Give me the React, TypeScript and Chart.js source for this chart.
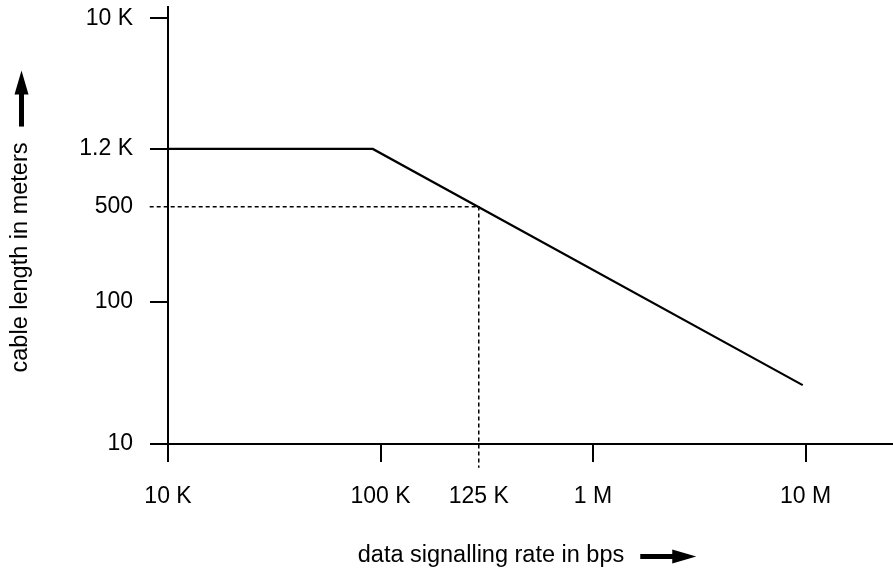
import React, { useEffect, useRef } from 'react';
import { Chart, registerables } from 'chart.js';

Chart.register(...registerables);

// ---- data ----
// tick positions as read off the (schematic) log axes; labels as printed
const xTickValues = [1e4, 1e5, 2.9e5, 1e6, 1e7];
const xTickLabels = ['10 K', '100 K', '125 K', '1 M', '10 M'];
const yTickValues = [10, 100, 470, 1200, 10000];
const yTickLabels = ['10', '100', '500', '1.2 K', '10 K'];

const rateBps = [1e4, 92000, 9.7e6];
const cableLengthM = [1200, 1200, 26];

const markerRate = [8200, 2.9e5, 2.9e5];
const markerLength = [470, 470, 6.8];
const markerTickX = 2.9e5;
const markerTickY = 470;

const xTitle = 'data signalling rate in bps';
const yTitle = 'cable length in meters';

const FONT = '"Liberation Sans", Arial, Helvetica, sans-serif';

function drawTitleWithArrow(ctx: CanvasRenderingContext2D, text: string, centerX: number, baseline: number) {
  const w = ctx.measureText(text).width;
  const gap = 16;
  const arrowLen = 56;
  const headLen = 24;
  const headHalf = 7;
  const shaft = 5;
  const total = w + gap + arrowLen;
  const x0 = centerX - total / 2;
  ctx.textAlign = 'left';
  ctx.textBaseline = 'alphabetic';
  ctx.fillText(text, x0, baseline);
  const ax = x0 + w + gap;
  const ay = baseline - 5.5;
  ctx.fillRect(ax, ay - shaft / 2, arrowLen - headLen + 1, shaft);
  ctx.beginPath();
  ctx.moveTo(ax + arrowLen - headLen, ay - headHalf);
  ctx.lineTo(ax + arrowLen, ay);
  ctx.lineTo(ax + arrowLen - headLen, ay + headHalf);
  ctx.closePath();
  ctx.fill();
}

const axisTitlesPlugin = {
  id: 'axisTitlesWithArrows',
  afterDraw(chart: any) {
    const { ctx, chartArea: a } = chart;
    ctx.save();
    ctx.fillStyle = '#000';
    ctx.font = `23.5px ${FONT}`;
    // x-axis title
    drawTitleWithArrow(ctx, xTitle, (a.left + a.right) / 2 - 3.5, chart.height - 6);
    // y-axis title (rotated)
    ctx.translate(27, (a.top + a.bottom) / 2 - 4);
    ctx.rotate(-Math.PI / 2);
    drawTitleWithArrow(ctx, yTitle, 0, 0);
    ctx.restore();
  },
};

export default function App() {
  const canvasRef = useRef<HTMLCanvasElement | null>(null);

  useEffect(() => {
    const canvas = canvasRef.current;
    if (!canvas) return;
    const tickFont = { family: FONT, size: 23 };
    const chart = new Chart(canvas, {
      type: 'line',
      data: {
        datasets: [
          {
            label: 'cable length',
            data: rateBps.map((x, i) => ({ x, y: cableLengthM[i] })),
            borderColor: '#000',
            borderWidth: 2.2,
            pointRadius: 0,
            fill: false,
            tension: 0,
          },
          {
            label: 'marker',
            data: markerRate.map((x, i) => ({ x, y: markerLength[i] })),
            borderColor: '#000',
            borderWidth: 1.5,
            borderDash: [4, 3],
            pointRadius: 0,
            fill: false,
            tension: 0,
            clip: false as any,
          },
        ],
      },
      options: {
        animation: false,
        responsive: false,
        maintainAspectRatio: false,
        layout: { padding: { top: 7, right: 0, bottom: 0, left: 0 } },
        plugins: {
          legend: { display: false },
          tooltip: { enabled: false },
        },
        scales: {
          x: {
            type: 'logarithmic',
            min: 1e4,
            max: 2.58e7,
            afterBuildTicks: (s: any) => {
              s.ticks = xTickValues.map((v) => ({ value: v }));
            },
            afterFit: (s: any) => {
              s.height = 124;
              s.paddingLeft = 0;
              s.paddingRight = 0;
              s.paddingTop = 0;
              s.paddingBottom = 0;
            },
            ticks: {
              autoSkip: false,
              maxRotation: 0,
              minRotation: 0,
              padding: 21,
              color: '#000',
              font: tickFont,
              callback: (_v: any, i: number) => xTickLabels[i],
            },
            grid: {
              display: true,
              drawOnChartArea: false,
              drawTicks: true,
              tickLength: 18,
              lineWidth: 2,
              tickWidth: 2,
              color: '#000',
              tickColor: (c: any) => (c.tick && c.tick.value === markerTickX ? 'rgba(0,0,0,0)' : '#000'),
            },
            border: { display: true, color: '#000', width: 2 },
          },
          y: {
            type: 'logarithmic',
            min: 10,
            max: 12000,
            afterBuildTicks: (s: any) => {
              s.ticks = yTickValues.map((v) => ({ value: v }));
            },
            afterFit: (s: any) => {
              s.width = 168;
              s.paddingLeft = 0;
              s.paddingRight = 0;
              s.paddingTop = 0;
              s.paddingBottom = 0;
            },
            ticks: {
              autoSkip: false,
              padding: 17,
              color: '#000',
              font: tickFont,
              callback: (_v: any, i: number) => yTickLabels[i],
            },
            grid: {
              display: true,
              drawOnChartArea: false,
              drawTicks: true,
              tickLength: 18,
              lineWidth: 2,
              tickWidth: 2,
              color: '#000',
              tickColor: (c: any) => (c.tick && c.tick.value === markerTickY ? 'rgba(0,0,0,0)' : '#000'),
            },
            border: { display: true, color: '#000', width: 2 },
          },
        },
      } as any,
      plugins: [axisTitlesPlugin],
    });
    return () => chart.destroy();
  }, []);

  return (
    <div style={{ position: 'absolute', left: 0, top: 0, width: 893, height: 568, background: '#fff' }}>
      <canvas ref={canvasRef} width={893} height={568} style={{ display: 'block', width: 893, height: 568 }} />
    </div>
  );
}
